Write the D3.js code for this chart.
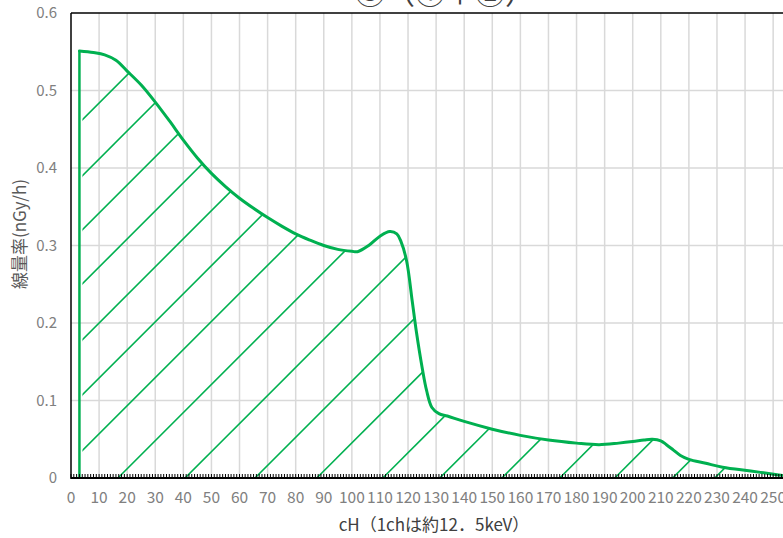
<!DOCTYPE html>
<html>
<head>
<meta charset="utf-8">
<script src="https://cdn.jsdelivr.net/npm/d3@7"></script>
<style>
  body { margin: 0; background: #fff; }
  svg { display: block; }
</style>
</head>
<body>
<div id="chart"></div>
<script>
// channel (ch) and dose rate (nGy/h)
const chValues = [3, 8, 12, 16, 20, 25, 30, 35, 40, 45, 50, 55, 60, 65, 70, 75, 80, 85, 90, 95, 100, 102, 106, 110, 113.5, 116, 117.5, 119.5, 121.5, 123, 125, 126.6, 128.5, 131, 134, 140, 150, 160, 170, 180, 188, 195, 200, 204, 207, 210, 212, 214.5, 217, 220, 226, 232, 242, 252, 256];
const doseRate = [0.551, 0.549, 0.546, 0.539, 0.525, 0.507, 0.485, 0.461, 0.436, 0.413, 0.393, 0.376, 0.361, 0.348, 0.336, 0.325, 0.315, 0.307, 0.300, 0.295, 0.2925, 0.292, 0.300, 0.312, 0.318, 0.315, 0.305, 0.280, 0.228, 0.188, 0.143, 0.113, 0.091, 0.083, 0.080, 0.073, 0.063, 0.055, 0.049, 0.045, 0.043, 0.045, 0.047, 0.049, 0.050, 0.048, 0.043, 0.036, 0.029, 0.024, 0.019, 0.014, 0.009, 0.004, 0.002];
// where each hatch line would meet the baseline (in ch)
const hatchStartCh = [-123.5, -103.6, -84.3, -65.1, -45.2, -25.6, -5.7, 16.7, 40.6, 65.5, 87.5, 111.0, 131.3, 153.4, 174.0, 193.6, 214.2, 229.2];
const xTickLabels = [0, 10, 20, 30, 40, 50, 60, 70, 80, 90, 100, 110, 120, 130, 140, 150, 160, 170, 180, 190, 200, 210, 220, 230, 240, 250];
const yTickLabels = [0, 0.1, 0.2, 0.3, 0.4, 0.5, 0.6];
const chartTitle = "③（①＋②）";
const xTitle = "cH（1chは約12．5keV）";
const yTitle = "線量率(nGy/h)";

const width = 783, height = 538;
const green = "#00b050";
const font = "'Noto Sans CJK JP', 'Noto Sans', sans-serif";

const svg = d3.select("#chart").append("svg")
    .attr("width", width).attr("height", height)
    .style("font-family", font);

const x = d3.scaleLinear().domain([0, 256]).range([71, 790]);
const y = d3.scaleLinear().domain([0, 0.6]).range([478, 13]);

const points = chValues.map((c, i) => ({ ch: c, v: doseRate[i] }));
const smooth = d3.curveCatmullRom.alpha(0.5);

// gridlines
svg.append("g").selectAll("line")
    .data(yTickLabels.filter(d => d > 0 && d < 0.6))
    .join("line")
    .attr("x1", x(0)).attr("x2", width)
    .attr("y1", d => y(d)).attr("y2", d => y(d))
    .attr("stroke", "#d9d9d9").attr("stroke-width", 1.5);

svg.append("g").selectAll("line")
    .data(xTickLabels.filter(d => d > 0))
    .join("line")
    .attr("x1", d => x(d)).attr("x2", d => x(d))
    .attr("y1", y(0.6)).attr("y2", y(0))
    .attr("stroke", "#d9d9d9").attr("stroke-width", 1.5);

// clip for hatching: area under curve, kept a little off the left edge
const areaGen = d3.area()
    .x(d => x(d.ch)).y0(y(0)).y1(d => y(d.v))
    .curve(smooth);

const defs = svg.append("defs");
defs.append("clipPath").attr("id", "under-curve")
    .append("path").attr("d", areaGen(points));
defs.append("clipPath").attr("id", "left-gap")
    .append("rect")
    .attr("x", x(chValues[0]) + 3).attr("y", 0)
    .attr("width", width).attr("height", height);

const hatch = svg.append("g").attr("clip-path", "url(#left-gap)")
    .append("g").attr("clip-path", "url(#under-curve)");
hatch.selectAll("line")
    .data(hatchStartCh)
    .join("line")
    .attr("x1", d => x(d)).attr("y1", y(0))
    .attr("x2", d => x(d) + 600).attr("y2", y(0) - 600)
    .attr("stroke", green).attr("stroke-width", 1.6);

// curve outline
const lineGen = d3.line()
    .x(d => x(d.ch)).y(d => y(d.v))
    .curve(smooth);

svg.append("line")
    .attr("x1", x(chValues[0])).attr("x2", x(chValues[0]))
    .attr("y1", y(0)).attr("y2", y(doseRate[0]))
    .attr("stroke", green).attr("stroke-width", 2.5);

svg.append("path")
    .attr("d", lineGen(points))
    .attr("fill", "none")
    .attr("stroke", green).attr("stroke-width", 3)
    .attr("stroke-linejoin", "round").attr("stroke-linecap", "round");

// frame: left axis, top border, bottom axis with minor ticks
svg.append("line")
    .attr("x1", x(0)).attr("x2", x(0)).attr("y1", y(0.6)).attr("y2", y(0) + 1)
    .attr("stroke", "#000").attr("stroke-width", 1.5);
svg.append("line")
    .attr("x1", x(0)).attr("x2", width).attr("y1", y(0.6)).attr("y2", y(0.6))
    .attr("stroke", "#000").attr("stroke-width", 1.5);

svg.append("g").selectAll("line")
    .data(d3.range(0, 257, 1))
    .join("line")
    .attr("x1", d => x(d)).attr("x2", d => x(d))
    .attr("y1", y(0) - 4).attr("y2", y(0))
    .attr("stroke", "#000").attr("stroke-width", 1);
svg.append("line")
    .attr("x1", x(0)).attr("x2", width).attr("y1", y(0)).attr("y2", y(0))
    .attr("stroke", "#000").attr("stroke-width", 2.2);

// tick labels
svg.append("g").selectAll("text")
    .data(yTickLabels)
    .join("text")
    .attr("x", 57).attr("y", d => y(d))
    .attr("dy", "0.36em")
    .attr("text-anchor", "end")
    .attr("font-size", 15)
    .attr("fill", "#808080")
    .text(d => d === 0 ? "0" : d.toFixed(1));

svg.append("g").selectAll("text")
    .data(xTickLabels)
    .join("text")
    .attr("x", d => x(d)).attr("y", 503)
    .attr("text-anchor", "middle")
    .attr("font-size", 15.5)
    .attr("fill", "#808080")
    .text(d => d);

// titles
svg.append("text")
    .attr("transform", "translate(26,234) rotate(-90)")
    .attr("text-anchor", "middle")
    .attr("font-size", 17)
    .attr("fill", "#595959")
    .text(yTitle);

svg.append("text")
    .attr("x", 434).attr("y", 531)
    .attr("text-anchor", "middle")
    .attr("font-size", 17)
    .attr("fill", "#404040")
    .text(xTitle);

svg.append("text")
    .attr("x", 445).attr("y", 4)
    .attr("text-anchor", "middle")
    .attr("font-size", 30)
    .attr("fill", "#404040")
    .text(chartTitle);
</script>
</body>
</html>
